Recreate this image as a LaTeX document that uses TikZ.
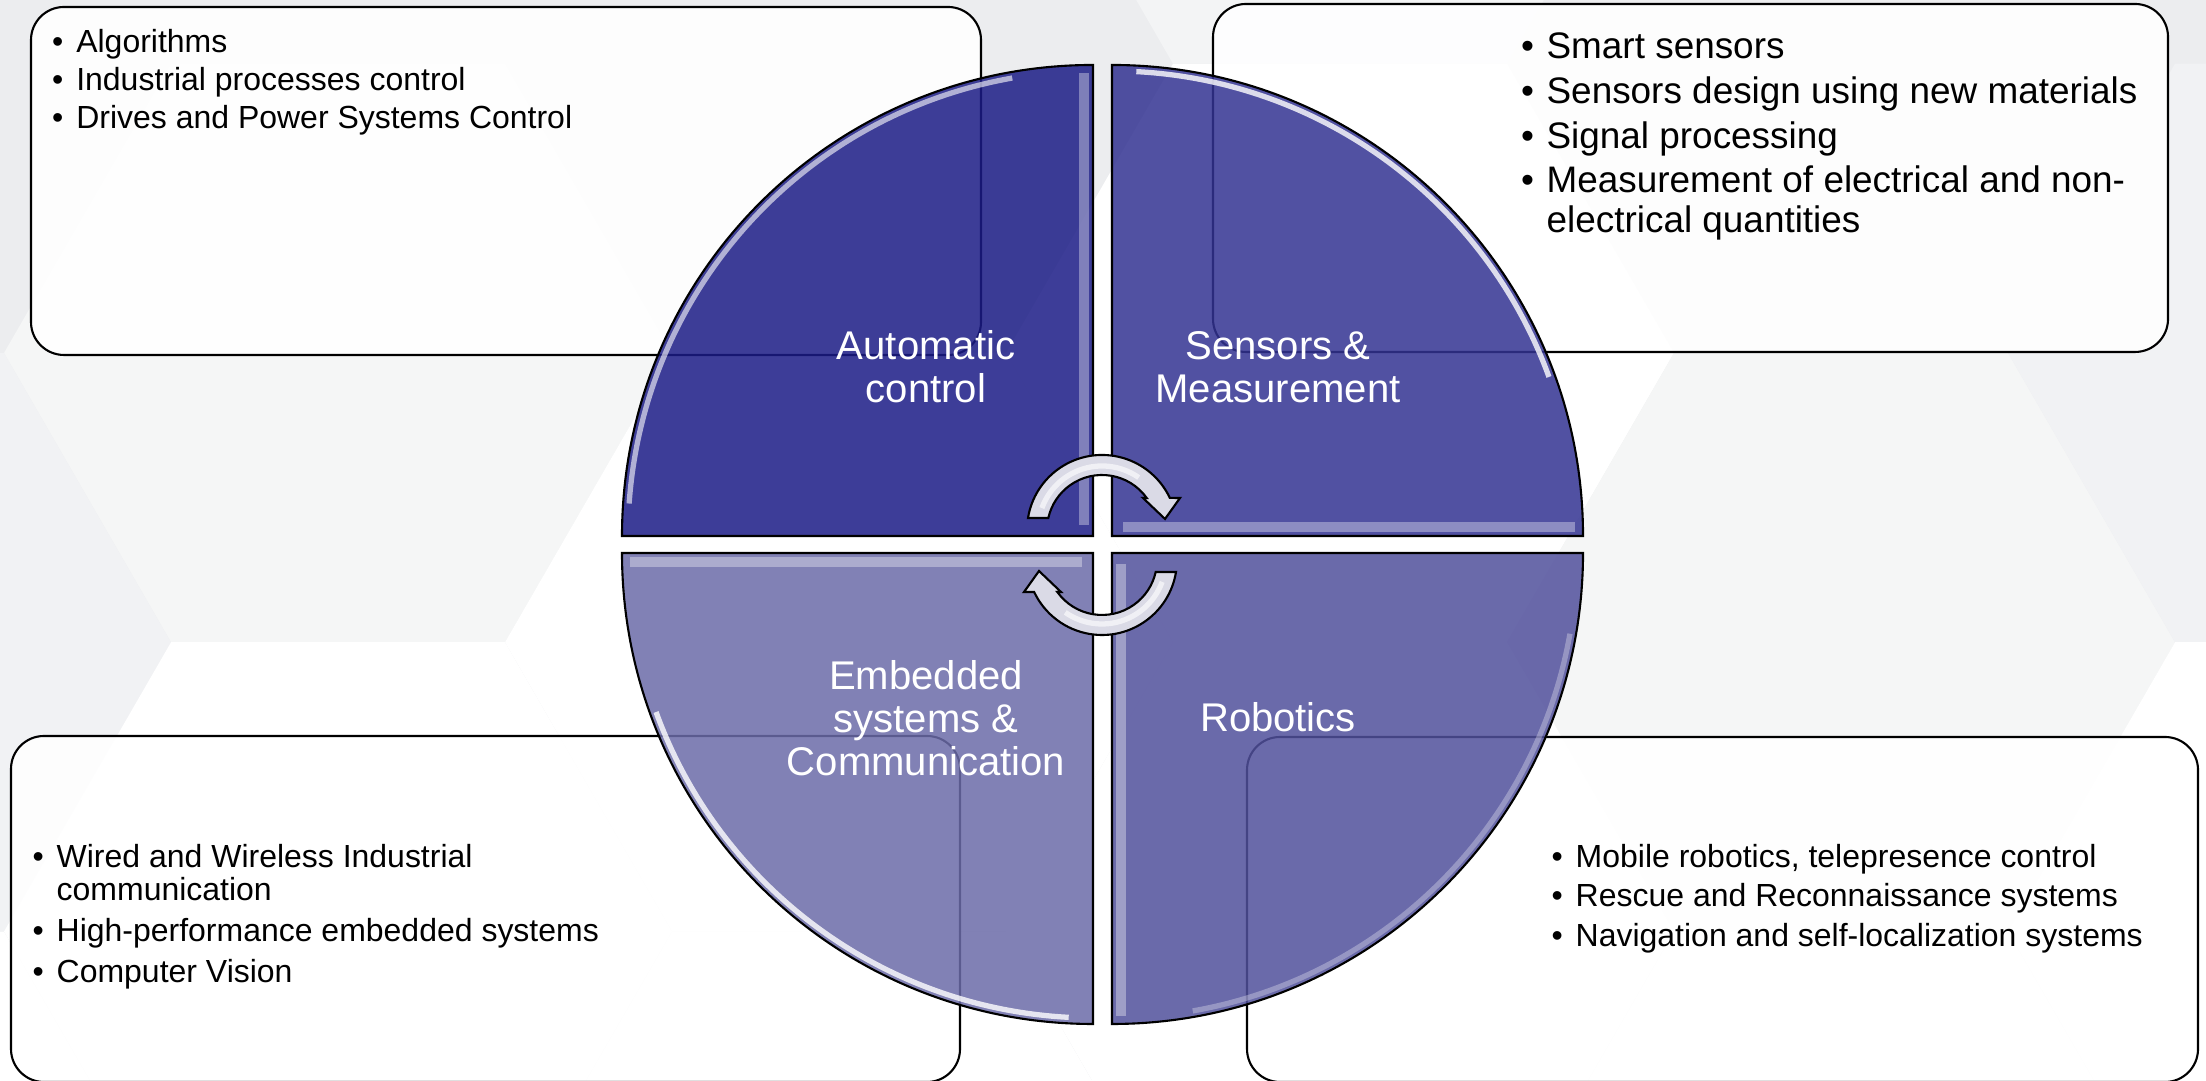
\documentclass[tikz,border=0pt]{standalone}
\usepackage{fontspec}
\setmainfont{Liberation Sans}
\usepackage{tikz}
\usepackage{color}

\definecolor{bggray}{HTML}{ECEDEF}
\definecolor{hexband}{HTML}{F1F2F4}
\definecolor{hexlight}{HTML}{F5F6F6}
\definecolor{hexpale}{HTML}{F3F4F5}
\definecolor{quadA}{HTML}{1C1C86}
\definecolor{quadB}{HTML}{333392}
\definecolor{quadC}{HTML}{6C6CA9}
\definecolor{quadD}{HTML}{51509C}
\definecolor{arrowfill}{HTML}{DADAE6}

\newcommand{\bl}{\textbullet}
\newcommand{\hexcell}[3]{\fill[#3] (#1,#2) ++(3.34,0) -- ++(120:3.34) -- ++(180:3.34) -- ++(240:3.34) -- ++(300:3.34) -- ++(0:3.34) -- cycle;}

\tikzset{
  infobox/.style={draw=black, line width=0.6pt, fill=white, fill opacity=0.9, rounded corners=0.33cm},
  quarter/.style={draw=black, line width=0.6pt, fill opacity=0.85},
  bevel/.style={draw=white, draw opacity=0.35, line width=3pt},
  gloss/.style={draw=white, draw opacity=0.6, line width=1.5pt},
  cyclearrow/.style={draw=black, line width=0.6pt, fill=arrowfill},
  quadtext/.style={text=white, font=\fontsize{11.4}{12.1}\selectfont, inner sep=0pt, anchor=base},
  bullets/.style={font=\fontsize{9.1}{10.8}\selectfont, inner sep=0pt, anchor=base west},
}

\begin{document}
\begin{tikzpicture}
\useasboundingbox (0,0) rectangle (22.06,10.81);
\clip (0,0) rectangle (22.06,10.81);
\fill[bggray] (0,0) rectangle (22.06,10.81);
\hexcell{3.38}{7.28}{hexlight}
\hexcell{-1.63}{4.3875}{hexband}
\hexcell{-1.63}{-1.40}{white}
\hexcell{8.39}{4.3875}{white}
\hexcell{3.38}{1.495}{white}
\hexcell{13.40}{7.28}{white}
\hexcell{13.40}{13.065}{hexpale}
\hexcell{18.41}{4.3875}{hexlight}
\hexcell{23.42}{7.28}{hexband}
\hexcell{23.42}{1.495}{white}
\hexcell{13.40}{1.495}{white}
\hexcell{8.39}{-1.40}{white}
\hexcell{18.41}{-1.40}{white}

\draw[infobox] (0.31,7.26) rectangle (9.81,10.74);
\draw[infobox] (12.13,7.29) rectangle (21.68,10.77);
\draw[infobox] (0.11,-0.01) rectangle (9.60,3.45);
\draw[infobox] (12.47,-0.01) rectangle (21.98,3.44);

\draw[quarter, fill=quadA] (10.93,5.45) -- ++(-4.71,0) arc[start angle=180, end angle=90, radius=4.71] -- cycle;
\draw[quarter, fill=quadB] (11.12,5.45) -- ++(0,4.71) arc[start angle=90, end angle=0, radius=4.71] -- cycle;
\draw[quarter, fill=quadC] (10.93,5.28) -- ++(0,-4.71) arc[start angle=270, end angle=180, radius=4.71] -- cycle;
\draw[quarter, fill=quadD] (11.12,5.28) -- ++(4.71,0) arc[start angle=0, end angle=-90, radius=4.71] -- cycle;

\draw[bevel] (10.84,5.56) -- (10.84,10.08);
\draw[bevel] (11.23,5.54) -- (15.75,5.54);
\draw[bevel] (6.30,5.19) -- (10.82,5.19);
\draw[bevel] (11.21,5.17) -- (11.21,0.65);
\draw[gloss] (10.93,5.45) ++(176:4.65) arc[start angle=176, end angle=100, radius=4.65];
\draw[gloss, draw opacity=0.8] (11.12,5.45) ++(87:4.65) arc[start angle=87, end angle=20, radius=4.65];
\draw[gloss, draw opacity=0.8] (10.93,5.28) ++(200:4.65) arc[start angle=200, end angle=267, radius=4.65];
\draw[gloss, draw opacity=0.3] (11.12,5.28) ++(-10:4.65) arc[start angle=-10, end angle=-80, radius=4.65];

\begin{scope}[shift={(11.02,5.51)}]
\draw[cyclearrow] (-0.740,0.12) arc[start angle=170.8, end angle=25.3, radius=0.75] -- (0.78,0.32) -- (0.63,0.11) -- (0.41,0.32) -- (0.447,0.32) arc[start angle=35.6, end angle=167.4, radius=0.55] -- cycle;
\draw[gloss] (160:0.64) arc[start angle=160, end angle=55, radius=0.64];
\end{scope}
\begin{scope}[shift={(11.02,5.21)}, rotate=180]
\draw[cyclearrow] (-0.740,0.12) arc[start angle=170.8, end angle=25.3, radius=0.75] -- (0.78,0.32) -- (0.63,0.11) -- (0.41,0.32) -- (0.447,0.32) arc[start angle=35.6, end angle=167.4, radius=0.55] -- cycle;
\draw[gloss] (160:0.64) arc[start angle=160, end angle=55, radius=0.64];
\end{scope}

\node[quadtext] (autolbl) at (9.26,7.21) {\begin{tabular}[t]{@{}c@{}}Automatic\\control\end{tabular}};
\node[quadtext] (senslbl) at (12.78,7.215) {\begin{tabular}[t]{@{}c@{}}Sensors \&\\Measurement\end{tabular}};
\node[quadtext] (emblbl) at (9.26,3.91) {\begin{tabular}[t]{@{}c@{}}Embedded\\systems \&\\Communication\end{tabular}};
\node[quadtext] (robolbl) at (12.78,3.49) {\begin{tabular}[t]{@{}c@{}}Robotics\end{tabular}};

\node[bullets] (autolist) at (0.514,10.28) {\begin{tabular}[t]{@{}l@{\hspace{0.13cm}}l@{}}
\bl & Algorithms\\
\bl & Industrial processes control\\
\bl & Drives and Power Systems Control
\end{tabular}};
\node[bullets, font=\fontsize{10.5}{11.4}\selectfont] (senslist) at (15.205,10.22) {\begin{tabular}[t]{@{}l@{\hspace{0.125cm}}l@{}}
\bl & Smart sensors\\[1.3pt]
\bl & Sensors design using new materials\\[1.3pt]
\bl & Signal processing\\[1.3pt]
\bl & Measurement of electrical and non-\\
 & electrical quantities
\end{tabular}};
\node[bullets, font=\fontsize{9.1}{9.0}\selectfont] (emblist) at (0.318,2.13) {\begin{tabular}[t]{@{}l@{\hspace{0.13cm}}l@{}}
\bl & Wired and Wireless Industrial\\
 & communication\\[2.4pt]
\bl & High-performance embedded systems\\[2.4pt]
\bl & Computer Vision
\end{tabular}};
\node[bullets, font=\fontsize{9.1}{11.1}\selectfont] (robolist) at (15.508,2.13) {\begin{tabular}[t]{@{}l@{\hspace{0.13cm}}l@{}}
\bl & Mobile robotics, telepresence control\\
\bl & Rescue and Reconnaissance systems\\
\bl & Navigation and self-localization systems
\end{tabular}};
\end{tikzpicture}
\end{document}
